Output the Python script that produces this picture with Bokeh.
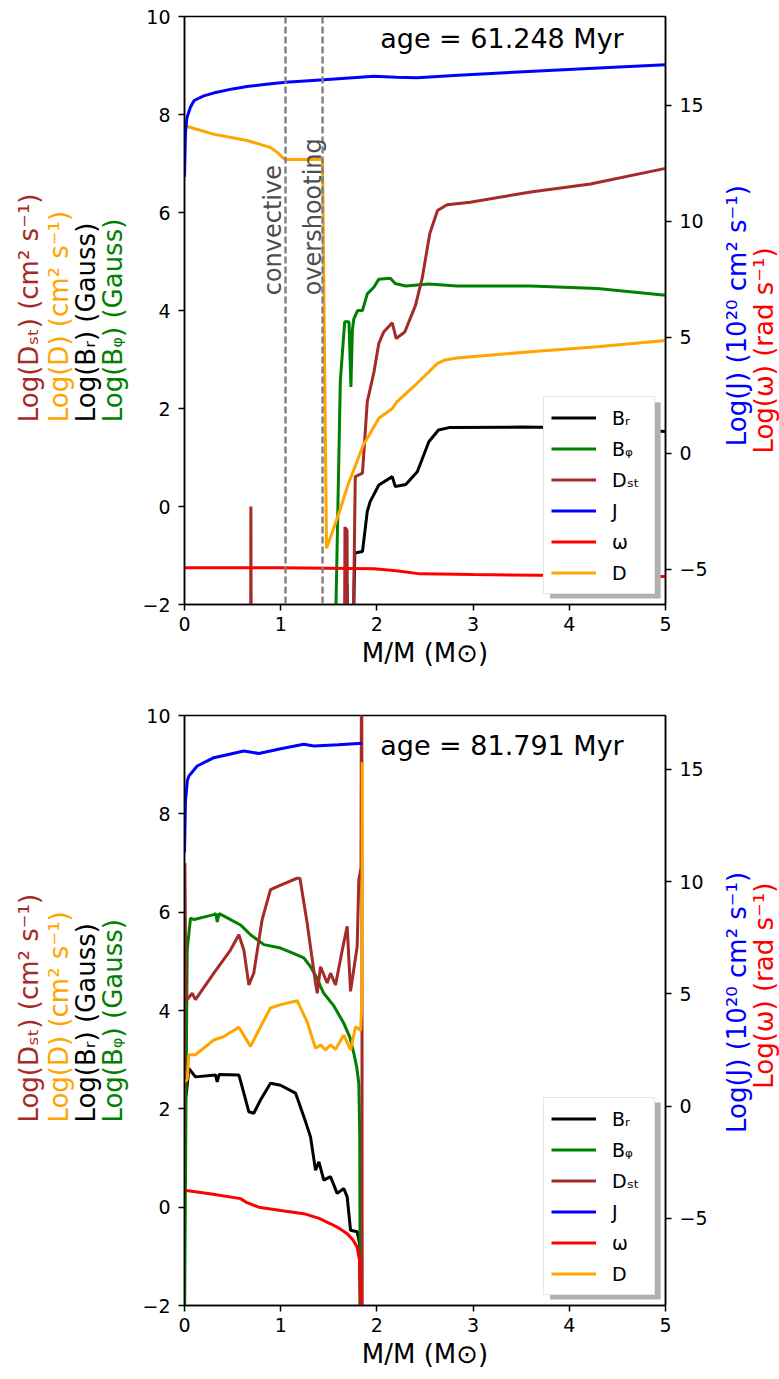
import math
from bokeh.plotting import figure
from bokeh.models import Range1d, LinearAxis, Legend, LegendItem, Label, BoxAnnotation, Span, FixedTicker
from bokeh.layouts import column, row
from bokeh.core.properties import value
from bokeh.embed import file_html
from bokeh.resources import INLINE

NaN = float("nan")
FONT = "DejaVu Sans"

# ---------------- top panel (age = 61.248 Myr) ----------------
age1 = "age = 61.248 Myr"
m_Br1 = [1.686, 1.690, 1.694, NaN, 1.755, 1.77, 1.85, 1.90, 1.93, 2.02, 2.16, 2.19, 2.30, 2.42, 2.54, 2.64, 2.75, 3.5, 4.3, 5.0]
Br1 = [-2.5, -1.6, -2.5, NaN, -2.5, -0.95, -0.92, -0.10, 0.10, 0.44, 0.61, 0.41, 0.45, 0.71, 1.32, 1.56, 1.61, 1.62, 1.60, 1.53]
m_Bp1 = [1.57, 1.62, 1.665, 1.71, 1.73, 1.745, 1.76, 1.80, 1.85, 1.90, 1.97, 2.02, 2.14, 2.19, 2.30, 2.54, 2.83, 3.6, 4.29, 5.0]
Bp1 = [-2.5, 2.57, 3.77, 3.77, 2.44, 3.6, 3.83, 4.0, 4.0, 4.34, 4.48, 4.64, 4.66, 4.55, 4.50, 4.54, 4.50, 4.50, 4.45, 4.31]
m_DST1 = [0.688, 0.690, 0.693, NaN, 1.664, 1.668, 1.674, 1.678, 1.684, 1.690, 1.694, NaN,
          1.755, 1.775, 1.85, 1.90, 1.97, 2.02, 2.07, 2.16, 2.20, 2.29, 2.40, 2.47, 2.55, 2.63, 2.73, 2.97, 3.6, 4.22, 5.0]
DST1 = [-2.5, 0.0, -2.5, NaN, -2.5, -0.42, -0.45, -2.5, -0.45, -0.5, -2.5, NaN,
        -2.5, 0.61, 0.68, 2.14, 2.75, 3.33, 3.56, 3.75, 3.43, 3.56, 4.10, 4.65, 5.57, 6.04, 6.16, 6.21, 6.42, 6.58, 6.90]
m_J1 = [0.0, 0.01, 0.025, 0.06, 0.1, 0.2, 0.3, 0.5, 0.65, 0.85, 1.05, 1.45, 1.97, 2.2, 2.42, 2.8, 3.42, 4.2, 5.0]
J1 = [11.9, 13.8, 14.45, 14.9, 15.2, 15.4, 15.52, 15.7, 15.8, 15.9, 15.99, 16.09, 16.24, 16.2, 16.18, 16.28, 16.42, 16.58, 16.74]
m_w1 = [0.0, 1.0, 1.97, 2.2, 2.45, 3.0, 4.0, 5.0]
w1 = [-4.94, -4.94, -4.98, -5.07, -5.2, -5.23, -5.27, -5.31]
m_D1 = [0.0, 0.02, 0.3, 0.65, 0.89, 0.97, 1.02, 1.05, 1.435, 1.476, 1.55, 1.62, 1.70, 1.78, 1.86, 1.92, 2.02,
        2.16, 2.21, 2.40, 2.52, 2.63, 2.71, 2.83, 3.6, 4.29, 5.0]
D1 = [7.81, 7.76, 7.6, 7.47, 7.33, 7.22, 7.12, 7.08, 7.08, -0.85, -0.45, -0.05, 0.45, 0.85, 1.26, 1.46, 1.8,
      2.0, 2.14, 2.48, 2.71, 2.92, 2.99, 3.03, 3.16, 3.26, 3.39]
zone_edges1 = [1.05, 1.435]
zone_names1 = ["convective", "overshooting"]

# ---------------- bottom panel (age = 81.791 Myr) ----------------
age2 = "age = 81.791 Myr"
m_Br2 = [0.0, 0.02, 0.045, 0.114, 0.322, 0.34, 0.36, 0.565, 0.617, 0.669, 0.72, 0.79, 0.894, 0.998, 1.154, 1.258,
         1.31, 1.362, 1.397, 1.448, 1.518, 1.587, 1.656, 1.691, 1.726, 1.795, 1.82, 1.83]
Br2 = [2.1, 2.32, 2.82, 2.65, 2.69, 2.55, 2.7, 2.69, 2.32, 1.94, 1.91, 2.18, 2.52, 2.48, 2.32, 1.74,
       1.43, 0.75, 0.92, 0.55, 0.62, 0.28, 0.38, 0.21, -0.47, -0.5, -0.74, -2.5]
m_Bp2 = [0.0, 0.015, 0.028, 0.062, 0.1, 0.2, 0.305, 0.325, 0.34, 0.36, 0.45, 0.582, 0.63, 0.686, 0.75, 0.825,
         0.998, 1.12, 1.24, 1.31, 1.38, 1.414, 1.448, 1.55, 1.656, 1.72, 1.76, 1.79, 1.812, 1.822, 1.826]
Bp2 = [-2.5, 2.0, 5.23, 5.88, 5.85, 5.9, 5.95, 5.97, 5.8, 5.97, 5.88, 5.74, 5.65, 5.54, 5.45, 5.34,
       5.27, 5.17, 5.07, 4.89, 4.65, 4.49, 4.35, 4.1, 3.74, 3.45, 3.13, 2.85, 2.52, 1.43, -2.5]
m_DST2 = [0.0, 0.004, 0.015, 0.028, 0.08, 0.114, 0.305, 0.478, 0.565, 0.617, 0.669, 0.72, 0.807, 0.894, 1.0,
          1.171, 1.2, 1.275, 1.362, 1.38, 1.414, 1.483, 1.518, 1.57, 1.64, 1.691, 1.726, 1.795, 1.812, 1.835,
          1.842, 1.848]
DST2 = [1.4, 7.0, 4.3, 4.22, 4.35, 4.22, 4.76, 5.23, 5.54, 5.23, 4.52, 4.76, 5.85, 6.46, 6.55,
        6.69, 6.69, 5.78, 4.56, 4.35, 4.89, 4.56, 4.76, 4.52, 5.23, 5.71, 4.39, 5.3, 6.66, 6.9,
        14.0, -5.0]
m_J2 = [0.0, 0.01, 0.03, 0.045, 0.132, 0.305, 0.617, 0.773, 1.0, 1.24, 1.345, 1.6, 1.847]
J2 = [11.3, 13.6, 14.5, 14.7, 15.15, 15.52, 15.82, 15.71, 15.92, 16.12, 16.04, 16.1, 16.16]
m_w2 = [0.0, 0.3, 0.582, 0.65, 0.773, 1.0, 1.24, 1.4, 1.518, 1.6, 1.69, 1.75, 1.795, 1.82, 1.835]
w2 = [-3.75, -3.92, -4.12, -4.3, -4.5, -4.65, -4.79, -5.0, -5.24, -5.42, -5.68, -5.95, -6.28, -6.9, -9.2]
m_D2 = [0.0, 0.028, 0.045, 0.114, 0.305, 0.409, 0.565, 0.686, 0.79, 0.894, 1.0, 1.171, 1.275, 1.362, 1.414,
        1.466, 1.518, 1.57, 1.656, 1.726, 1.778, 1.83, 1.845, 1.847]
D2 = [2.55, 2.59, 3.1, 3.1, 3.4, 3.47, 3.66, 3.27, 3.67, 4.05, 4.12, 4.2, 3.77, 3.23, 3.3,
      3.2, 3.3, 3.21, 3.5, 3.2, 3.67, 3.6, 4.2, 9.05]

# axes / labels
x_ticks = [0, 1, 2, 3, 4, 5]
y_ticks = [-2, 0, 2, 4, 6, 8, 10]
yr_ticks = [-5, 0, 5, 10, 15]
legend_labels = ["Bᵣ", "Bᵩ", "Dₛₜ", "J", "ω", "D"]
left_labels = ["Log(Dₛₜ) (cm² s⁻¹)", "Log(D) (cm² s⁻¹)", "Log(Bᵣ) (Gauss)", "Log(Bᵩ) (Gauss)"]
left_colors = ["brown", "orange", "black", "green"]
right_labels = ["Log(J) (10²⁰ cm² s⁻¹)", "Log(ω) (rad s⁻¹)"]
right_colors = ["blue", "red"]

LW, MW, RW = 130, 580, 69   # strip / main / strip widths


def style_axis(ax):
    ax.axis_line_color = "black"
    ax.axis_line_width = 1.5
    ax.major_tick_line_color = "black"
    ax.major_tick_line_width = 1.5
    ax.major_tick_out = 6
    ax.major_tick_in = 0
    ax.minor_tick_line_color = None
    ax.major_label_text_font = FONT
    ax.major_label_text_font_size = "19px"
    ax.major_label_text_color = "black"
    ax.major_label_standoff = 8


def strip(width, height, btop, bbot, xs, ys, texts, colors, align):
    s = figure(width=width, height=height, x_range=Range1d(0, width), y_range=Range1d(-2, 10),
               output_backend="svg", toolbar_location=None, x_axis_type=None, y_axis_type=None,
               min_border_left=0, min_border_right=0, min_border_top=btop, min_border_bottom=bbot)
    s.outline_line_color = None
    s.xgrid.visible = False
    s.ygrid.visible = False
    s.text(x=xs, y=ys, text=texts, text_color=colors, angle=math.pi / 2, text_align=align,
           text_baseline="middle", text_font=value(FONT), text_font_size=value("26px"))
    return s


def panel(height, btop, bbot, yr, age, series, zones, rlab):
    p = figure(width=MW, height=height, x_range=Range1d(0, 5), y_range=Range1d(-2, 10),
               output_backend="svg", toolbar_location=None,
               min_border_left=54, min_border_right=45, min_border_top=btop, min_border_bottom=bbot)
    p.extra_y_ranges = {"right": Range1d(yr[0], yr[1])}
    p.xgrid.visible = False
    p.ygrid.visible = False
    p.outline_line_color = "black"
    p.outline_line_width = 1.5
    p.outline_line_alpha = 1.0

    p.xaxis.ticker = FixedTicker(ticks=x_ticks)
    p.yaxis.ticker = FixedTicker(ticks=y_ticks)
    style_axis(p.xaxis[0])
    style_axis(p.yaxis[0])
    p.xaxis.axis_label = "M/M (M⊙)"
    p.xaxis.axis_label_text_font = FONT
    p.xaxis.axis_label_text_font_size = "26px"
    p.xaxis.axis_label_text_font_style = "normal"
    p.xaxis.axis_label_text_color = "black"
    p.xaxis.axis_label_standoff = 4
    p.xaxis.major_label_standoff = 6

    rax = LinearAxis(y_range_name="right", ticker=FixedTicker(ticks=yr_ticks))
    style_axis(rax)
    p.add_layout(rax, "right")

    (mBr, Br), (mBp, Bp), (mDST, DST), (mJ, J), (mw, w), (mD, D) = series
    lw = 3
    r_br = p.line(mBr, Br, line_color="black", line_width=lw)
    r_bp = p.line(mBp, Bp, line_color="green", line_width=lw)
    r_dst = p.line(mDST, DST, line_color="brown", line_width=lw)
    r_d = p.line(mD, D, line_color="orange", line_width=lw)

    if zones is not None:
        edges, names, txt_x = zones
        for e in edges:
            p.add_layout(Span(location=e, dimension="height", line_color="gray",
                              line_width=2.4, line_dash="7 3"))
        for nm, tx in zip(names, txt_x):
            p.add_layout(Label(x=tx, y=4.31, text=nm, angle=math.pi / 2, text_align="left",
                               text_baseline="middle", text_font=FONT, text_font_size="24px",
                               text_color="#4d4d4d"))

    r_j = p.line(mJ, J, line_color="blue", line_width=lw, y_range_name="right")
    r_w = p.line(mw, w, line_color="red", line_width=lw, y_range_name="right")

    p.add_layout(Label(x=3.3, y=age[1], text=age[0], text_align="center", text_baseline="middle",
                       text_font=FONT, text_font_size="27px", text_color="black"))

    # legend with shadow
    p.add_layout(BoxAnnotation(left=3.80, right=4.95, top=2.13, bottom=-1.88,
                               fill_color="#b0b0b0", fill_alpha=1.0, line_color=None))
    items = [LegendItem(label=l, renderers=[r]) for l, r in
             zip(legend_labels, [r_br, r_bp, r_dst, r_j, r_w, r_d])]
    leg = Legend(items=items, location="bottom_right", margin=10, padding=7, spacing=4,
                 glyph_width=45, glyph_height=27, label_height=27, label_width=35, label_standoff=16,
                 label_text_font=FONT, label_text_font_size="19px", label_text_color="black",
                 border_line_color="#cccccc", border_line_width=1.5,
                 background_fill_color="white", background_fill_alpha=1.0)
    p.add_layout(leg)

    ls = strip(LW, height, btop, bbot, [28, 58, 85, 112], [1.72] * 4, left_labels, left_colors, "left")
    ralign, rys = rlab
    rs = strip(RW, height, btop, bbot, [26, 53], rys, right_labels, right_colors, ralign)
    return row(ls, p, rs)


p1 = panel(698, 16, 94, (-6.52, 18.82), (age1, 9.55),
           [(m_Br1, Br1), (m_Bp1, Bp1), (m_DST1, DST1), (m_J1, J1), (m_w1, w1), (m_D1, D1)],
           (zone_edges1, zone_names1, [0.925, 1.34]), ("left", [1.23, 1.08]))
p2 = panel(681, 17, 74, (-8.88, 17.4), (age2, 9.4),
           [(m_Br2, Br2), (m_Bp2, Bp2), (m_DST2, DST2), (m_J2, J2), (m_w2, w2), (m_D2, D2)],
           None, ("right", [6.82, 6.6]))

layout = column(p1, p2)
open("out.html", "w").write(file_html(layout, INLINE))
